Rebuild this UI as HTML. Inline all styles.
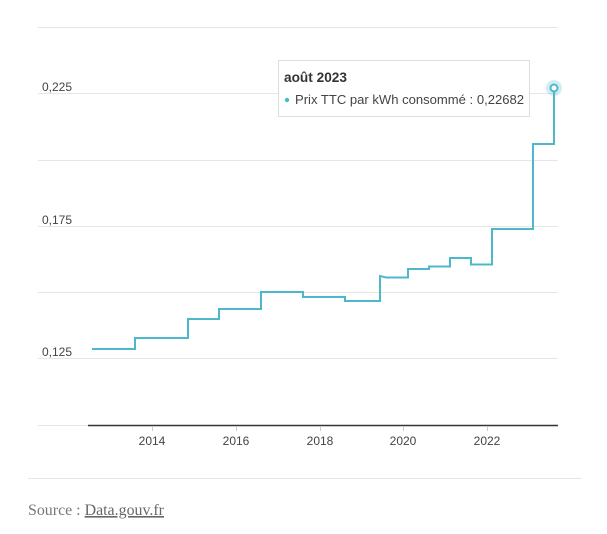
<!DOCTYPE html>
<html><head><meta charset="utf-8"><style>
html,body{margin:0;padding:0;background:#fff;width:607px;height:534px;overflow:hidden}
</style></head><body>
<svg width="607" height="534" xmlns="http://www.w3.org/2000/svg" style="position:absolute;left:0;top:0">
<g stroke="#e6e6e6" stroke-width="1">
<line x1="38" x2="558" y1="27.5" y2="27.5"/>
<line x1="38" x2="558" y1="93.5" y2="93.5"/>
<line x1="38" x2="558" y1="160.5" y2="160.5"/>
<line x1="38" x2="558" y1="226.5" y2="226.5"/>
<line x1="38" x2="558" y1="292.5" y2="292.5"/>
<line x1="38" x2="558" y1="358.5" y2="358.5"/>
<line x1="38" x2="88" y1="425.5" y2="425.5"/>
<line x1="28" x2="582" y1="478.5" y2="478.5"/>
</g>
<line x1="88" x2="558" y1="425.5" y2="425.5" stroke="#333" stroke-width="1.5"/>
<g stroke="#ccc"><line x1="152.5" x2="152.5" y1="426" y2="431"/><line x1="236.5" x2="236.5" y1="426" y2="431"/><line x1="320.5" x2="320.5" y1="426" y2="431"/><line x1="403.5" x2="403.5" y1="426" y2="431"/><line x1="487.5" x2="487.5" y1="426" y2="431"/></g>
<g font-family="Liberation Sans, sans-serif" font-size="12" fill="#444">
<text x="42" y="91">0,225</text>
<text x="42" y="224">0,175</text>
<text x="42" y="356">0,125</text>
<g text-anchor="middle"><text x="152" y="445">2014</text><text x="236" y="445">2016</text><text x="320" y="445">2018</text><text x="403" y="445">2020</text><text x="487" y="445">2022</text></g>
</g>
<path d="M92,349H135V338H188V319H219V309H261V292H303V297H345V301H380V276L386,277.5H408V269H429V266.5H450V258H471V264.5H492V229H533V144H554V88" fill="none" stroke="#4db8cc" stroke-width="2"/>
<circle cx="554" cy="88" r="8" fill="#4db8cc" opacity="0.25"/>
<circle cx="554" cy="88" r="3.5" fill="#fff" stroke="#4db8cc" stroke-width="2"/>
<rect x="278.5" y="60.5" width="251" height="56" fill="#fff" stroke="#ddd"/>
<text x="284" y="82" font-family="Liberation Sans, sans-serif" font-size="13.5" font-weight="bold" fill="#333" textLength="63" lengthAdjust="spacingAndGlyphs">août 2023</text>
<circle cx="287" cy="100" r="2.2" fill="#4db8cc"/>
<text x="295" y="104" font-family="Liberation Sans, sans-serif" font-size="12.5" fill="#444" textLength="229" lengthAdjust="spacingAndGlyphs">Prix TTC par kWh consommé : 0,22682</text>
<text x="28" y="515" font-family="Liberation Serif, serif" font-size="16" fill="#777" textLength="136" lengthAdjust="spacingAndGlyphs">Source : <tspan text-decoration="underline" fill="#666">Data.gouv.fr</tspan></text>
</svg>
</body></html>
